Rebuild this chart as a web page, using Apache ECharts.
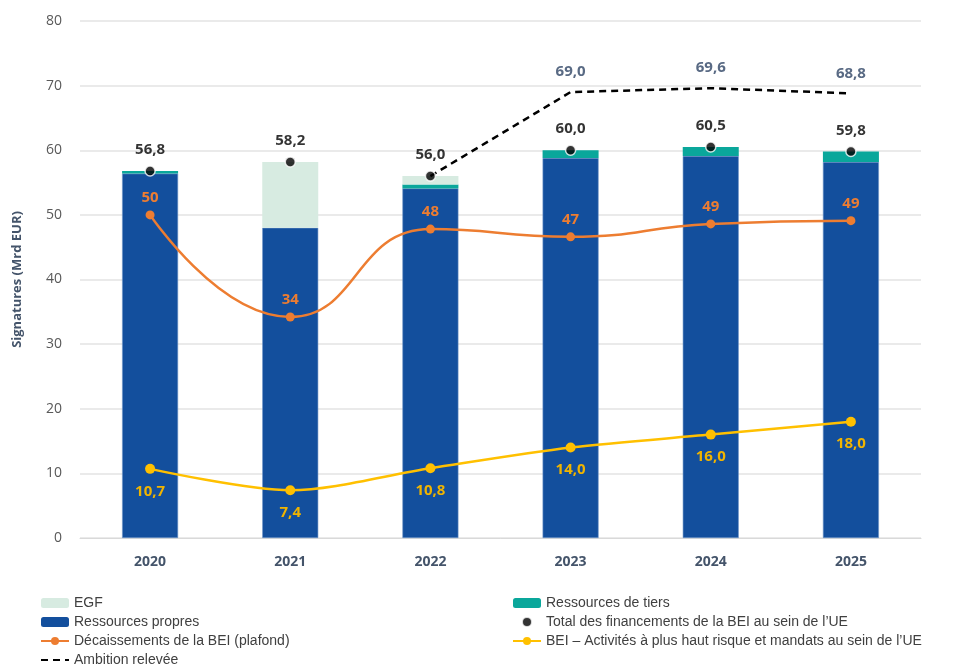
<!DOCTYPE html>
<html>
<head>
<meta charset="utf-8">
<script src="https://cdn.jsdelivr.net/npm/echarts@6/dist/echarts.min.js"></script>
<style>
  html, body { margin: 0; padding: 0; background: #fff; }
  #chart { width: 976px; height: 668px; }
</style>
</head>
<body>
<div id="chart"></div>
<script>
// données
const years = ['2020', '2021', '2022', '2023', '2024', '2025'];
const ressourcesPropres = [56.4, 48.0, 54.1, 58.8, 59.1, 58.2];
const ressourcesTiers = [0.4, 0, 0.6, 1.2, 1.4, 1.6];
const egf = [0, 10.2, 1.3, 0, 0, 0];
const totalUE = [56.8, 58.2, 56.0, 60.0, 60.5, 59.8];
const decaissements = [50.0, 34.2, 47.8, 46.6, 48.6, 49.1];
const activitesRisque = [10.7, 7.4, 10.8, 14.0, 16.0, 18.0];
const ambition = [null, null, 56.0, 69.0, 69.6, 68.8];
const yTicks = [0, 10, 20, 30, 40, 50, 60, 70, 80];

(function () {
    let myChart = echarts.init(document.getElementById('chart'));
    const fr = v => v.toFixed(1).replace('.', ',');
    const font = 'Open Sans, Noto Sans, sans-serif';
    const legendFont = 'Liberation Sans Narrow, Arial Narrow, Liberation Sans, sans-serif';
    const legendText = { fontFamily: legendFont, fontSize: 14, lineHeight: 14, color: '#404040' };

    let option = {
        animation: false,
        textStyle: { fontFamily: font },
        grid: { left: 80, right: 55, top: 21, bottom: 130, containLabel: false },
        legend: [{
            orient: 'vertical', left: 40, top: 596, itemGap: 5, padding: 0,
            itemWidth: 28, itemHeight: 10,
            textStyle: legendText,
            data: ['EGF',
                { name: 'Ressources propres', itemStyle: { borderWidth: 0 } },
                'Décaissements de la BEI (plafond)', 'Ambition relevée']
        }, {
            orient: 'vertical', left: 512, top: 596, itemGap: 5, padding: 0,
            itemWidth: 28, itemHeight: 10,
            textStyle: legendText,
            data: ['Ressources de tiers', 'Total des financements de la BEI au sein de l\u2019UE',
                'BEI \u2013 Activités à plus haut risque et mandats au sein de l\u2019UE']
        }],
        xAxis: {
            type: 'category',
            data: years,
            axisTick: { show: false },
            axisLine: { lineStyle: { color: '#d9d9d9', width: 1 } },
            axisLabel: { color: '#44546a', fontSize: 14, fontWeight: 'bold', margin: 17 }
        },
        yAxis: {
            type: 'value',
            min: yTicks[0], max: yTicks[yTicks.length - 1], interval: 10,
            name: 'Signatures (Mrd EUR)',
            nameLocation: 'middle', nameGap: 56,
            nameTextStyle: { color: '#44546a', fontSize: 13, fontWeight: 'bold' },
            axisLine: { show: false },
            axisTick: { show: false },
            axisLabel: { color: '#595959', fontSize: 14, margin: 18 },
            splitLine: { lineStyle: { color: '#e3e3e3', width: 1.5 } }
        },
        series: [{
            name: 'Ressources propres', type: 'bar', stack: 'total',
            barWidth: 56, data: ressourcesPropres,
            itemStyle: { color: '#134f9d', borderColor: '#6f95c8', borderWidth: 0.6 }
        }, {
            name: 'Ressources de tiers', type: 'bar', stack: 'total',
            data: ressourcesTiers,
            itemStyle: { color: '#0aa79b' }
        }, {
            name: 'EGF', type: 'bar', stack: 'total',
            data: egf,
            itemStyle: { color: '#d7ebe1' }
        }, {
            name: 'Total des financements de la BEI au sein de l\u2019UE', type: 'scatter',
            data: totalUE, symbolSize: 10, z: 5,
            itemStyle: { color: '#000', borderColor: '#fff', borderWidth: 1.5 },
            label: {
                show: true, position: 'top', distance: 8, color: '#000',
                fontSize: 15, fontWeight: 'bold', formatter: p => fr(p.value)
            }
        }, {
            name: 'Décaissements de la BEI (plafond)', type: 'line', smooth: 0.5,
            data: decaissements, symbol: 'circle', symbolSize: 9, z: 4,
            lineStyle: { color: '#ed7d31', width: 2.5 },
            itemStyle: { color: '#ed7d31' },
            label: {
                show: true, position: 'top', distance: 5, color: '#ed7d31',
                fontSize: 15, fontWeight: 'bold', formatter: p => Math.round(p.value)
            }
        }, {
            name: 'BEI \u2013 Activités à plus haut risque et mandats au sein de l\u2019UE', type: 'line',
            smooth: 0.3, data: activitesRisque, symbol: 'circle', symbolSize: 10, z: 4,
            lineStyle: { color: '#ffc000', width: 2.5 },
            itemStyle: { color: '#ffc000' },
            label: {
                show: true, position: 'bottom', distance: 10, color: '#f0b400',
                fontSize: 15, fontWeight: 'bold', formatter: p => fr(p.value)
            }
        }, {
            name: 'Ambition relevée', type: 'line', data: ambition,
            symbol: 'circle', symbolSize: 1, z: 3,
            lineStyle: { color: '#000', width: 2.5, type: [7, 5] },
            itemStyle: { color: 'rgba(0,0,0,0)' },
            label: {
                show: true, position: 'top', distance: 12, color: '#596a84',
                fontSize: 15, fontWeight: 'bold',
                formatter: p => p.dataIndex >= 3 ? fr(p.value) : ''
            }
        }]
    };
    myChart.setOption(option);

    window.addEventListener('resize', function () {
        myChart.resize();
    });
})();
</script>
</body>
</html>
